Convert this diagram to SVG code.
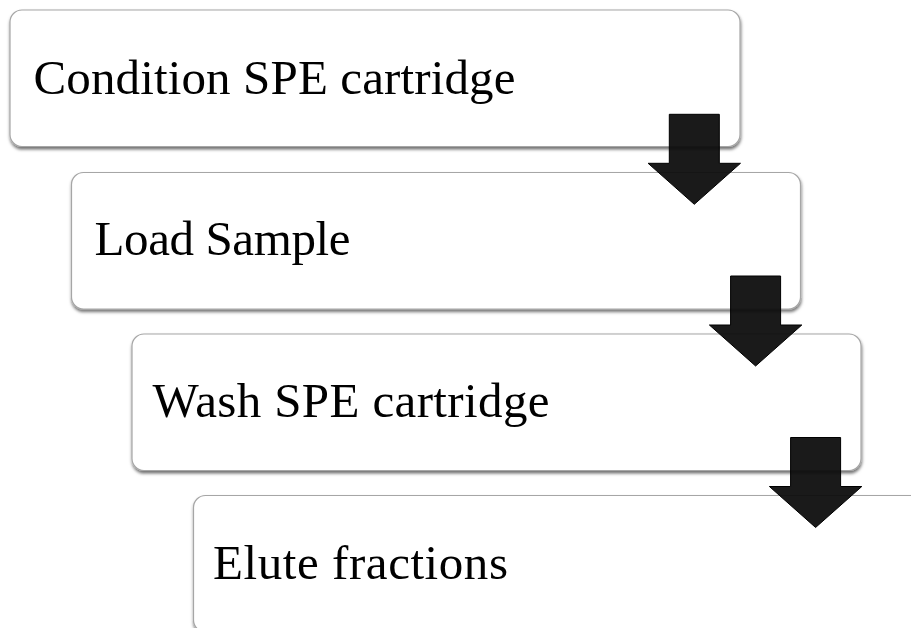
<svg xmlns="http://www.w3.org/2000/svg" width="911" height="628" viewBox="0 0 911 628">
  <defs>
    <filter id="shade" x="-5%" y="-10%" width="110%" height="125%">
      <feDropShadow dx="0.5" dy="2.5" stdDeviation="1.6" flood-color="#000" flood-opacity="0.55"/>
    </filter>
    <path id="down-arrow" d="M-25,0 H25 V49 H46.2 L0,90 L-46.2,49 H-25 Z"/>
  </defs>
  <style>
    .box { fill: #ffffff; stroke: #a6a6a6; stroke-width: 1.2; filter: url(#shade); }
    .label { font-family: "Liberation Serif", "Times New Roman", serif; font-size: 49px; fill: #000000; }
    .arrow { fill: #0c0c0c; fill-opacity: 0.94; stroke: #000000; stroke-width: 1; stroke-linejoin: miter; }
  </style>
  <rect width="911" height="628" fill="#ffffff"/>

  <g id="step-condition">
    <rect class="box" x="10" y="10" width="730" height="136.5" rx="12"/>
    <text class="label" x="33.5" y="93.5" textLength="482" lengthAdjust="spacing">Condition SPE cartridge</text>
  </g>
  <g id="step-load">
    <rect class="box" x="71.5" y="172.5" width="729" height="136.5" rx="12"/>
    <text class="label" x="94.5" y="255" textLength="256" lengthAdjust="spacing">Load Sample</text>
  </g>
  <g id="step-wash">
    <rect class="box" x="132" y="334" width="729" height="136.5" rx="12"/>
    <text class="label" x="152.5" y="416.5" textLength="397" lengthAdjust="spacing">Wash SPE cartridge</text>
  </g>
  <g id="step-elute">
    <rect class="box" x="193.5" y="495.5" width="729" height="136.5" rx="12"/>
    <text class="label" x="213" y="578.5" textLength="295" lengthAdjust="spacing">Elute fractions</text>
  </g>

  <g id="connectors">
    <use href="#down-arrow" class="arrow" transform="translate(694.3,114.3)"/>
    <use href="#down-arrow" class="arrow" transform="translate(755.6,276)"/>
    <use href="#down-arrow" class="arrow" transform="translate(815.6,437.5)"/>
  </g>
</svg>
